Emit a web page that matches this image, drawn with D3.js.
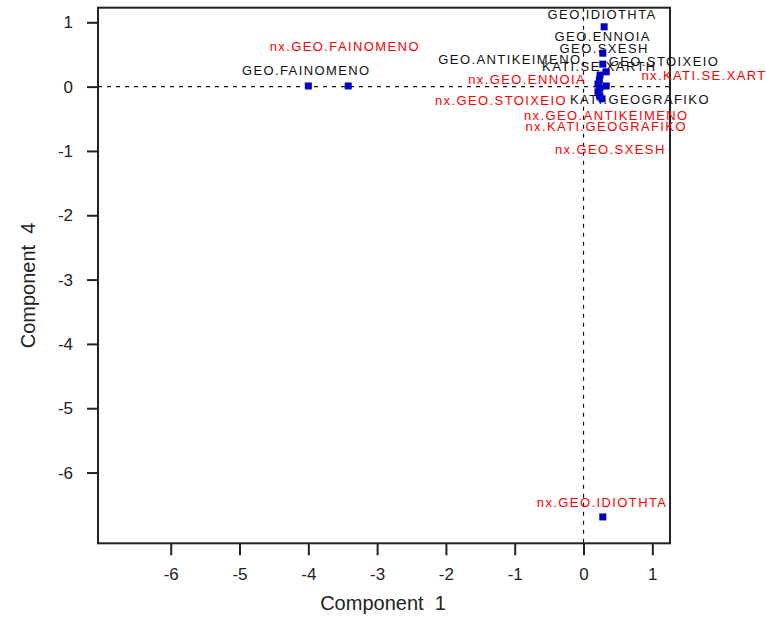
<!DOCTYPE html>
<html>
<head>
<meta charset="utf-8">
<script src="https://cdn.jsdelivr.net/npm/d3@7"></script>
<style>
  html, body { margin: 0; padding: 0; background: #fff; }
  svg { display: block; font-family: "Liberation Sans", Arial, sans-serif; }
</style>
</head>
<body>
<svg id="chart" width="766" height="620"></svg>
<script>
// Scores on components 1 and 4
const names = [
  "GEO.IDIOTHTA", "GEO.ENNOIA", "GEO.SXESH", "GEO.STOIXEIO",
  "GEO.ANTIKEIMENO", "KATI.SE.XARTH", "GEO.FAINOMENO", "KATI.GEOGRAFIKO",
  "nx.GEO.ENNOIA", "nx.KATI.SE.XARTH", "nx.GEO.STOIXEIO", "nx.GEO.ANTIKEIMENO",
  "nx.KATI.GEOGRAFIKO", "nx.GEO.SXESH", "nx.GEO.FAINOMENO", "nx.GEO.IDIOTHTA"
];
const comp1 = [0.30, 0.28, 0.28, 0.33, 0.24, 0.23, -4.00, 0.24,
               0.21, 0.33, 0.21, 0.23, 0.24, 0.27, -3.42, 0.28];
const comp4 = [0.93, 0.52, 0.35, 0.23, 0.18, 0.10, 0.01, -0.02,
               0.04, 0.01, -0.08, -0.13, -0.16, -0.19, 0.01, -6.69];
const group = ["geo", "geo", "geo", "geo", "geo", "geo", "geo", "geo",
               "nx", "nx", "nx", "nx", "nx", "nx", "nx", "nx"];

// Where each name is written, in component units
const labelC1 = [0.27, 0.28, 0.30, 1.17, -1.07, 0.23, -4.03, 0.82,
                 -0.82, 1.83, -1.20, 0.33, 0.33, 0.39, -3.47, 0.27];
const labelC4 = [1.10, 0.76, 0.57, 0.37, 0.41, 0.29, 0.24, -0.21,
                 0.09, 0.15, -0.24, -0.47, -0.64, -0.99, 0.60, -6.48];

const xTicks = [-6, -5, -4, -3, -2, -1, 0, 1];
const yTicks = [1, 0, -1, -2, -3, -4, -5, -6];
const xTitle = "Component  1";
const yTitle = "Component  4";

const svg = d3.select("#chart");
const box = { left: 98, right: 670, top: 7.7, bottom: 543.3 };

const x = d3.scaleLinear().domain([-7.057, 1.257]).range([box.left, box.right]);
const y = d3.scaleLinear().domain([1.227, -7.10]).range([box.top, box.bottom]);

// plain hyphen for negative tick labels
const fmt = d => String(d);

// reference lines at zero
svg.append("line")
  .attr("x1", box.left).attr("x2", box.right)
  .attr("y1", y(0)).attr("y2", y(0))
  .attr("stroke", "#111").attr("stroke-width", 1.2).attr("stroke-dasharray", "4,5");
svg.append("line")
  .attr("x1", x(0)).attr("x2", x(0))
  .attr("y1", box.top).attr("y2", box.bottom)
  .attr("stroke", "#111").attr("stroke-width", 1.2).attr("stroke-dasharray", "4,5");

// axes
const xAxis = svg.append("g")
  .attr("transform", `translate(0,${box.bottom})`)
  .call(d3.axisBottom(x).tickValues(xTicks).tickSize(12).tickPadding(13).tickFormat(fmt));
const yAxis = svg.append("g")
  .attr("transform", `translate(${box.left},0)`)
  .call(d3.axisLeft(y).tickValues(yTicks).tickSize(11).tickPadding(14).tickFormat(fmt));

[xAxis, yAxis].forEach(g => {
  g.select(".domain").remove();
  g.selectAll(".tick line").attr("stroke", "#222").attr("stroke-width", 2);
  g.selectAll(".tick text")
    .attr("fill", "#222")
    .style("font-family", "'Liberation Sans', Arial, sans-serif")
    .style("font-size", "17px");
});

// frame
svg.append("rect")
  .attr("x", box.left).attr("y", box.top)
  .attr("width", box.right - box.left).attr("height", box.bottom - box.top)
  .attr("fill", "none").attr("stroke", "#222").attr("stroke-width", 2);

// axis titles
svg.append("text")
  .attr("x", (box.left + box.right) / 2 - 1).attr("y", 605)
  .attr("text-anchor", "middle").attr("dominant-baseline", "middle")
  .attr("fill", "#222").style("font-size", "20px")
  .style("white-space", "pre").attr("xml:space", "preserve")
  .text(xTitle);
svg.append("text")
  .attr("transform", `translate(30,${(box.top + box.bottom) / 2 + 10}) rotate(-90)`)
  .attr("text-anchor", "middle").attr("dominant-baseline", "middle")
  .attr("fill", "#222").style("font-size", "20px")
  .style("white-space", "pre").attr("xml:space", "preserve")
  .text(yTitle);

const idx = d3.range(names.length);

// names
svg.append("g").selectAll("text")
  .data(idx)
  .join("text")
  .attr("x", i => x(labelC1[i]))
  .attr("y", i => y(labelC4[i]))
  .attr("text-anchor", "middle")
  .attr("dominant-baseline", "middle")
  .attr("fill", i => group[i] === "nx" ? "#ff0000" : "#111")
  .style("font-size", "13px")
  .style("letter-spacing", "1.4px")
  .text(i => names[i]);

// points
const s = 7;
svg.append("g").selectAll("rect")
  .data(idx)
  .join("rect")
  .attr("x", i => x(comp1[i]) - s / 2)
  .attr("y", i => y(comp4[i]) - s / 2)
  .attr("width", s).attr("height", s)
  .attr("fill", "#0000c0");
</script>
</body>
</html>
